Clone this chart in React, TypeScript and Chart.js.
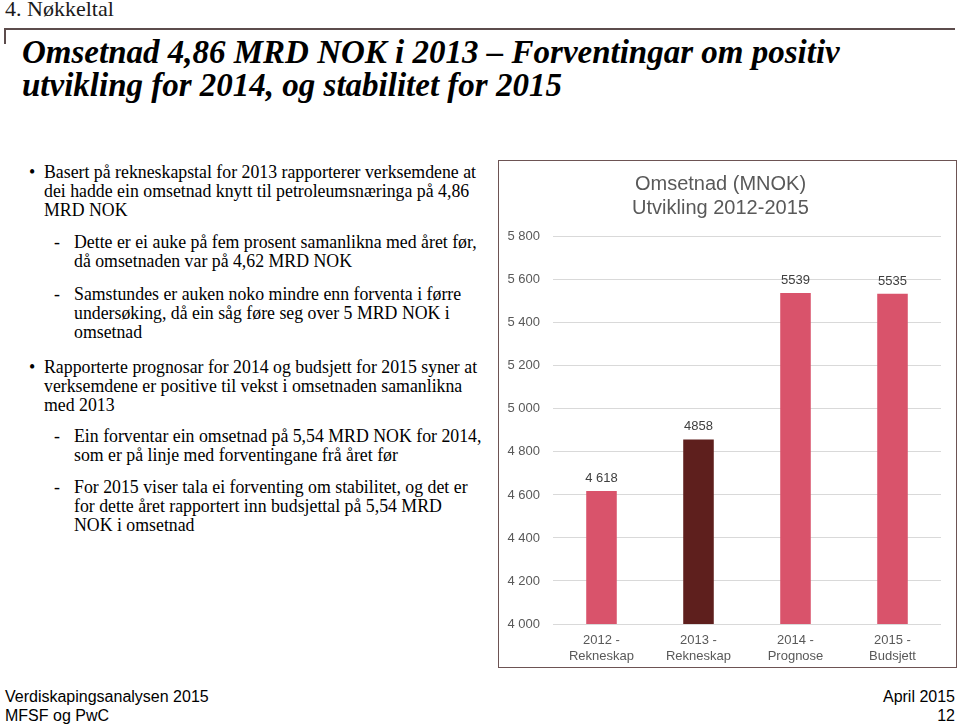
import React, { useEffect, useRef } from "react";
import { Chart, registerables } from "chart.js";

Chart.register(...registerables);

// ---- chart data ----
const categories: string[][] = [
  ["2012 -", "Rekneskap"],
  ["2013 -", "Rekneskap"],
  ["2014 -", "Prognose"],
  ["2015 -", "Budsjett"],
];
const revenue: number[] = [4618, 4858, 5539, 5535];
const valueLabels: string[] = ["4 618", "4858", "5539", "5535"];
const barColors: string[] = ["#D9536B", "#5E1F1D", "#D9536B", "#D9536B"];
const yMin = 4000;
const yMax = 5800;
const yStep = 200;
const chartTitle: string[] = ["Omsetnad (MNOK)", "Utvikling 2012-2015"];

// ---- slide text ----
const sectionLabel = "4. Nøkkeltal";
const headingLines: string[] = [
  "Omsetnad 4,86 MRD NOK i 2013 \u2013 Forventingar om positiv",
  "utvikling for 2014, og stabilitet for 2015",
];
type Block = { marker: string; level: number; top: number; lines: string[] };
const blocks: Block[] = [
  {
    marker: "•",
    level: 0,
    top: 178.5,
    lines: [
      "Basert på rekneskapstal for 2013 rapporterer verksemdene at",
      "dei hadde ein omsetnad knytt til petroleumsnæringa på 4,86",
      "MRD NOK",
    ],
  },
  {
    marker: "-",
    level: 1,
    top: 248.5,
    lines: [
      "Dette er ei auke på fem prosent samanlikna med året før,",
      "då omsetnaden var på 4,62 MRD NOK",
    ],
  },
  {
    marker: "-",
    level: 1,
    top: 300.5,
    lines: [
      "Samstundes er auken noko mindre enn forventa i førre",
      "undersøking, då ein såg føre seg over 5 MRD NOK i",
      "omsetnad",
    ],
  },
  {
    marker: "•",
    level: 0,
    top: 373.5,
    lines: [
      "Rapporterte prognosar for 2014 og budsjett for 2015 syner at",
      "verksemdene er positive til vekst i omsetnaden samanlikna",
      "med 2013",
    ],
  },
  {
    marker: "-",
    level: 1,
    top: 442.5,
    lines: [
      "Ein forventar ein omsetnad på 5,54 MRD NOK for 2014,",
      "som er på linje med forventingane frå året før",
    ],
  },
  {
    marker: "-",
    level: 1,
    top: 493.5,
    lines: [
      "For 2015 viser tala ei forventing om stabilitet, og det er",
      "for dette året rapportert inn budsjettal på 5,54 MRD",
      "NOK i omsetnad",
    ],
  },
];
const footerLeft: string[] = ["Verdiskapingsanalysen 2015", "MFSF og PwC"];
const footerRight: string[] = ["April 2015", "12"];

const SANS = "'Liberation Sans', Arial, sans-serif";
const SERIF = "'Liberation Serif', 'Times New Roman', serif";

const fmt = (v: number) => String(v).replace(/\B(?=(\d{3})+(?!\d))/g, " ");

const valueLabelPlugin = {
  id: "valueLabels",
  afterDatasetsDraw(chart: any) {
    const ctx = chart.ctx;
    const meta = chart.getDatasetMeta(0);
    ctx.save();
    ctx.font = `13px ${SANS}`;
    ctx.fillStyle = "#404040";
    ctx.textAlign = "center";
    ctx.textBaseline = "alphabetic";
    meta.data.forEach((bar: any, i: number) => {
      ctx.fillText(valueLabels[i], bar.x, bar.y - 9);
    });
    ctx.restore();
  },
};

function RevenueChart() {
  const ref = useRef<HTMLCanvasElement | null>(null);
  useEffect(() => {
    if (!ref.current) return;
    const chart = new Chart(ref.current, {
      type: "bar",
      data: {
        labels: categories,
        datasets: [
          {
            data: revenue,
            backgroundColor: barColors,
            borderWidth: 0,
            barPercentage: 0.315,
            categoryPercentage: 1,
          },
        ],
      },
      options: {
        animation: false,
        responsive: false,
        maintainAspectRatio: false,
        layout: { padding: { left: 0, right: 14, top: 0, bottom: 0 } },
        plugins: {
          legend: { display: false },
          tooltip: { enabled: false },
          title: {
            display: true,
            text: chartTitle,
            color: "#595959",
            font: { family: SANS, size: 20, weight: "normal", lineHeight: 1.17 },
            padding: { top: 11, bottom: 17 },
          },
        },
        scales: {
          x: {
            grid: { display: false, drawTicks: false },
            border: { display: false },
            ticks: {
              color: "#595959",
              font: { family: SANS, size: 13, lineHeight: 1.23 },
              padding: 8,
              maxRotation: 0,
              autoSkip: false,
            },
            afterFit: (s: any) => {
              s.height = 42;
            },
          },
          y: {
            min: yMin,
            max: yMax,
            grid: { color: "#D9D9D9", lineWidth: 1, drawTicks: false },
            border: { display: false },
            ticks: {
              stepSize: yStep,
              padding: 13,
              color: "#595959",
              font: { family: SANS, size: 13 },
              callback: (v: any) => fmt(Number(v)),
            },
            afterFit: (s: any) => {
              s.width = 53;
            },
          },
        },
      },
      plugins: [valueLabelPlugin],
    } as any);
    return () => chart.destroy();
  }, []);
  return <canvas ref={ref} width={455} height={504} style={{ display: "block" }} />;
}

export default function App() {
  const bodySize = 17.8;
  const bodyLH = 19.3;
  const bodyOffset = 15.66;
  return (
    <div
      style={{
        position: "absolute",
        left: 0,
        top: 0,
        width: 960,
        height: 725,
        overflow: "hidden",
        background: "#fff",
        color: "#000",
      }}
    >
      <div
        style={{
          position: "absolute",
          left: 5,
          top: -1.7,
          fontFamily: SERIF,
          fontSize: 22,
          lineHeight: "22px",
          whiteSpace: "nowrap",
          color: "#1a1a1a",
        }}
      >
        {sectionLabel}
      </div>
      {/* rule */}
      <div style={{ position: "absolute", left: 4, top: 28, width: 951, height: 2, background: "#5c4c4c" }} />
      <div style={{ position: "absolute", left: 4, top: 28, width: 2, height: 16, background: "#5c4c4c" }} />
      {/* heading */}
      <div
        style={{
          position: "absolute",
          left: 22,
          top: 35.5,
          fontFamily: SERIF,
          fontSize: 33,
          fontWeight: "bold",
          fontStyle: "italic",
          lineHeight: "33.4px",
          whiteSpace: "nowrap",
        }}
      >
        {headingLines.map((l, i) => (
          <div key={i}>{l}</div>
        ))}
      </div>
      {/* bullets */}
      {blocks.map((b, bi) => (
        <div key={bi}>
          <div
            style={{
              position: "absolute",
              left: b.level === 0 ? 29 : 54,
              top: b.top - bodyOffset,
              fontFamily: SERIF,
              fontSize: bodySize,
              lineHeight: `${bodyLH}px`,
            }}
          >
            {b.marker}
          </div>
          <div
            style={{
              position: "absolute",
              left: b.level === 0 ? 44 : 74,
              top: b.top - bodyOffset,
              fontFamily: SERIF,
              fontSize: bodySize,
              lineHeight: `${bodyLH}px`,
              whiteSpace: "nowrap",
            }}
          >
            {b.lines.map((l, i) => (
              <div key={i}>{l}</div>
            ))}
          </div>
        </div>
      ))}
      {/* chart box */}
      <div
        style={{
          position: "absolute",
          left: 498,
          top: 160,
          width: 459,
          height: 508,
          boxSizing: "border-box",
          border: "1.5px solid #6d5454",
        }}
      />
      <div style={{ position: "absolute", left: 500, top: 162 }}>
        <RevenueChart />
      </div>
      {/* footer */}
      <div
        style={{
          position: "absolute",
          left: 5,
          top: 687,
          fontFamily: SANS,
          fontSize: 16,
          lineHeight: "19px",
          whiteSpace: "nowrap",
        }}
      >
        {footerLeft.map((l, i) => (
          <div key={i}>{l}</div>
        ))}
      </div>
      <div
        style={{
          position: "absolute",
          right: 5,
          top: 687,
          fontFamily: SANS,
          fontSize: 16,
          lineHeight: "19px",
          whiteSpace: "nowrap",
          textAlign: "right",
        }}
      >
        {footerRight.map((l, i) => (
          <div key={i}>{l}</div>
        ))}
      </div>
    </div>
  );
}
